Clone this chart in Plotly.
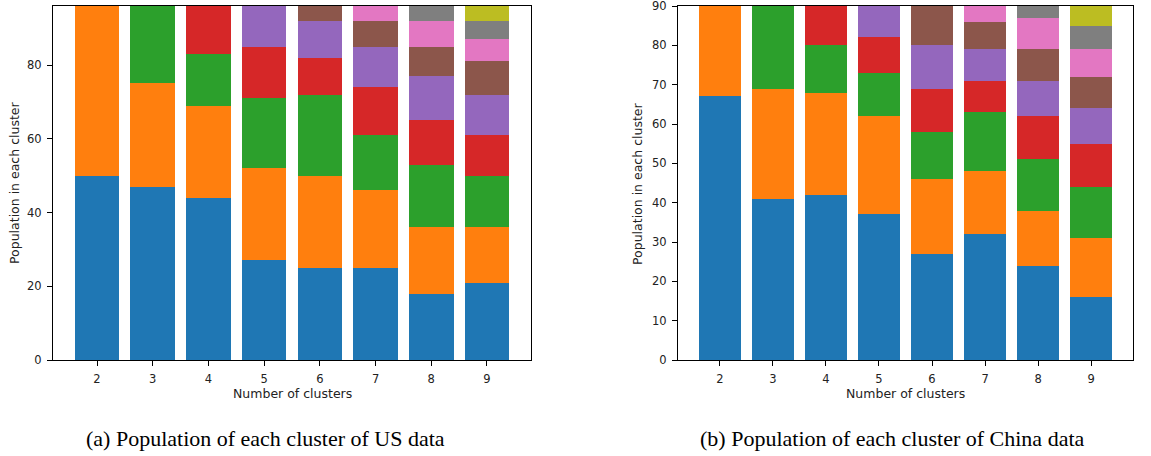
import plotly.graph_objects as go

# ---- data ----
cluster_counts = [2, 3, 4, 5, 6, 7, 8, 9]

# US data: size of each cluster for each number of clusters
us_k2 = [50, 46]
us_k3 = [47, 28, 21]
us_k4 = [44, 25, 14, 13]
us_k5 = [27, 25, 19, 14, 11]
us_k6 = [25, 25, 22, 10, 10, 4]
us_k7 = [25, 21, 15, 13, 11, 7, 4]
us_k8 = [18, 18, 17, 12, 12, 8, 7, 4]
us_k9 = [21, 15, 14, 11, 11, 9, 6, 5, 4]

# China data
cn_k2 = [67, 23]
cn_k3 = [41, 28, 21]
cn_k4 = [42, 26, 12, 10]
cn_k5 = [37, 25, 11, 9, 8]
cn_k6 = [27, 19, 12, 11, 11, 10]
cn_k7 = [32, 16, 15, 8, 8, 7, 4]
cn_k8 = [24, 14, 13, 11, 9, 8, 8, 3]
cn_k9 = [16, 15, 13, 11, 9, 8, 7, 6, 5]

us_sizes = [us_k2, us_k3, us_k4, us_k5, us_k6, us_k7, us_k8, us_k9]
cn_sizes = [cn_k2, cn_k3, cn_k4, cn_k5, cn_k6, cn_k7, cn_k8, cn_k9]

us_yticks = [0, 20, 40, 60, 80]
cn_yticks = [0, 10, 20, 30, 40, 50, 60, 70, 80, 90]

colors = ["#1f77b4", "#ff7f0e", "#2ca02c", "#d62728", "#9467bd",
          "#8c564b", "#e377c2", "#7f7f7f", "#bcbd22"]

W, H = 1151, 456
fig = go.Figure()


def add_stack(sizes, xaxis, yaxis):
    for i in range(9):
        xs, ys = [], []
        for k, s in zip(cluster_counts, sizes):
            if i < len(s):
                xs.append(k)
                ys.append(s[i])
        fig.add_trace(go.Bar(x=xs, y=ys, width=0.8, xaxis=xaxis, yaxis=yaxis,
                             marker=dict(color=colors[i], line=dict(width=0)),
                             showlegend=False))


add_stack(us_sizes, "x", "y")
add_stack(cn_sizes, "x2", "y2")

def px_x(p):
    return p / W

def px_y(p):
    return (H - p) / H

tickfont = dict(family="DejaVu Sans", size=11.5, color="#222")
axis_common = dict(showline=True, linecolor="black", linewidth=1, mirror=True,
                   ticks="outside", ticklen=5, tickcolor="black",
                   showgrid=False, zeroline=False, tickfont=tickfont,
                   automargin=False, ticklabeloverflow="allow",
                   ticklabelstandoff=3)

fig.update_layout(
    width=W, height=H, barmode="stack",
    margin=dict(l=0, r=0, t=0, b=0),
    plot_bgcolor="white", paper_bgcolor="white",
    xaxis=dict(domain=[px_x(53), px_x(531)], range=[1.21, 9.79],
               tickvals=cluster_counts, anchor="y", **axis_common),
    yaxis=dict(domain=[px_y(360), px_y(6)], range=[0, 96],
               tickvals=us_yticks, anchor="x", **axis_common),
    xaxis2=dict(domain=[px_x(678), px_x(1133)], range=[1.21, 9.79],
                tickvals=cluster_counts, anchor="y2", **axis_common),
    yaxis2=dict(domain=[px_y(360), px_y(6)], range=[0, 90],
                tickvals=cn_yticks, anchor="x2", **axis_common),
)

labfont = dict(family="DejaVu Sans", size=12.5, color="#222")
capfont = dict(family="Liberation Serif", size=22, color="black")

ann = [
    dict(text="Number of clusters", x=px_x(292), y=px_y(393)),
    dict(text="Number of clusters", x=px_x(905), y=px_y(393)),
]
for a in ann:
    fig.add_annotation(xref="paper", yref="paper", showarrow=False,
                       xanchor="center", yanchor="middle", font=labfont, **a)

for xp in (14, 637):
    fig.add_annotation(xref="paper", yref="paper", showarrow=False,
                       x=px_x(xp), y=px_y(183), text="Population in each cluster",
                       textangle=-90, xanchor="center", yanchor="middle",
                       font=labfont)

fig.add_annotation(xref="paper", yref="paper", showarrow=False,
                   x=px_x(265), y=px_y(438),
                   text="(a) Population of each cluster of US data",
                   xanchor="center", yanchor="middle", font=capfont)
fig.add_annotation(xref="paper", yref="paper", showarrow=False,
                   x=px_x(892), y=px_y(438),
                   text="(b) Population of each cluster of China data",
                   xanchor="center", yanchor="middle", font=capfont)

fig.write_html("out.html",
               config={"displayModeBar": False},
               post_script="document.body.style.margin='0';"
                           "document.body.style.overflow='hidden';")
